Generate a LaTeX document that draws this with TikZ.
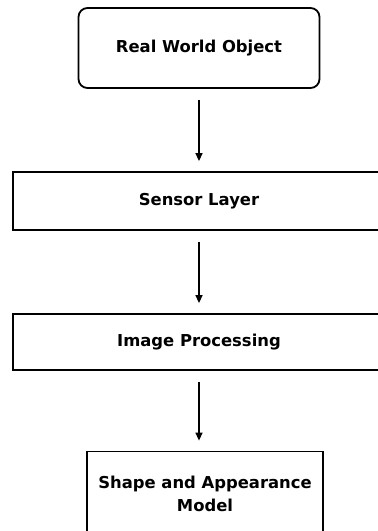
\documentclass[tikz,border=0pt]{standalone}
\usepackage{fontspec}
\setmainfont{DejaVu Sans}
\usetikzlibrary{arrows.meta}
\tikzset{
	stagebox/.style={draw, line width=1.8pt, fill=white, align=center, inner sep=0pt},
	flowarrow/.style={line width=1.3pt, -{Triangle[length=8pt,width=7pt]}, shorten <=11pt, shorten >=10pt}
}
\begin{document}
\begin{tikzpicture}[x=1pt, y=-1pt, font=\fontsize{16.4}{23}\selectfont\bfseries]
	\useasboundingbox (0,0) rectangle (378,531);
	\node[stagebox, rounded corners=9pt, minimum width=241pt, minimum height=80pt] (rwo) at (199,48) {Real World Object};
	\node[stagebox, minimum width=372pt, minimum height=58pt] (sensor) at (199,201) {Sensor Layer};
	\node[stagebox, minimum width=372pt, minimum height=56pt] (improc) at (199,342) {Image Processing};
	\node[stagebox, minimum width=236pt, minimum height=85pt] (model) at (205,494) {Shape and Appearance\\Model};
	\draw[flowarrow] (rwo) -- (sensor);
	\draw[flowarrow] (sensor) -- (improc);
	\draw[flowarrow] (improc.south) -- (improc.south |- model.north);
\end{tikzpicture}
\end{document}
